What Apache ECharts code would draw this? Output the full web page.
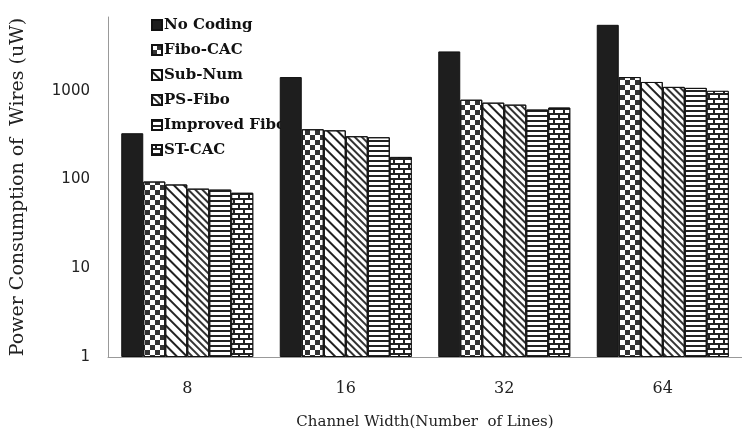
<!DOCTYPE html>
<html>
<head>
<meta charset="utf-8">
<script src="https://cdn.jsdelivr.net/npm/echarts@6/dist/echarts.min.js"></script>
<style>
  html, body { margin: 0; padding: 0; background: #fff; }
  #chart { width: 742px; height: 435px; }
</style>
</head>
<body>
<div id="chart"></div>
<script>
// channel widths (x categories)
const categories = ['8', '16', '32', '64'];
// power consumption of wires, uW
const noCoding = [333, 1431, 2783, 5550];
const fiboCac = [95, 369, 794, 1431];
const subNum = [88, 359, 736, 1259];
const psFibo = [79, 308, 699, 1108];
const improvedFibo = [77, 300, 615, 1080];
const stCac = [71, 180, 648, 1000];
const yTicks = [1, 10, 100, 1000];

const chart = echarts.init(document.getElementById('chart'));

const ink = '#1e1e1e';
const serif = '"DejaVu Serif", "Liberation Serif", serif';

function bar(name, data, color, decal) {
  return {
    name: name,
    type: 'bar',
    z: 2,
    barWidth: 22,
    barGap: '0%',
    data: data,
    itemStyle: {
      color: color,
      borderColor: '#111',
      borderWidth: 1,
      decal: decal
    }
  };
}

chart.setOption({
  animation: false,
  backgroundColor: '#fff',
  grid: {
    left: 108,
    top: 17,
    width: 648,
    height: 345
  },
  legend: {
    z: 1,
    orient: 'vertical',
    left: 146,
    top: 12,
    icon: 'rect',
    itemWidth: 10,
    itemHeight: 10,
    itemGap: 9,
    textStyle: {
      fontFamily: serif,
      fontWeight: 'bold',
      fontSize: 15,
      lineHeight: 16,
      color: '#111',
      padding: [0, 0, 0, -3]
    },
    data: ['No Coding', 'Fibo-CAC', 'Sub-Num', 'PS-Fibo', 'Improved Fibo', 'ST-CAC']
  },
  xAxis: {
    type: 'category',
    data: categories,
    name: 'Channel Width(Number  of Lines)',
    nameLocation: 'middle',
    nameGap: 58,
    nameTextStyle: {
      fontFamily: serif,
      fontSize: 15,
      color: '#222'
    },
    axisLine: { lineStyle: { color: '#999', width: 1 } },
    axisTick: { show: false },
    axisLabel: {
      margin: 24,
      fontFamily: serif,
      fontSize: 16,
      color: '#222'
    }
  },
  yAxis: {
    type: 'log',
    min: yTicks[0],
    max: 6800,
    name: 'Power Consumption of  Wires (uW)',
    nameLocation: 'middle',
    nameGap: 80,
    nameTextStyle: {
      fontFamily: serif,
      fontSize: 19,
      color: '#222'
    },
    splitLine: { show: false },
    axisLine: { show: true, lineStyle: { color: '#999', width: 1 } },
    axisTick: { show: false },
    axisLabel: {
      margin: 18,
      showMaxLabel: false,
      fontFamily: '"DejaVu Sans", sans-serif',
      fontSize: 15,
      color: '#222',
      formatter: function (v) {
        return yTicks.indexOf(Math.round(v)) >= 0 ? String(Math.round(v)) : '';
      }
    }
  },
  series: [
    bar('No Coding', noCoding, ink, null),
    bar('Fibo-CAC', fiboCac, '#fff', {
      symbol: 'rect', symbolSize: 1, color: '#333',
      dashArrayX: [[5, 5], [0, 5, 5, 0]], dashArrayY: [5, 0]
    }),
    bar('Sub-Num', subNum, '#fff', {
      symbol: 'rect', symbolSize: 1, color: '#222',
      dashArrayX: [1, 0], dashArrayY: [2, 5], rotation: Math.PI / 4
    }),
    bar('PS-Fibo', psFibo, '#fff', {
      symbol: 'rect', symbolSize: 1, color: '#333',
      dashArrayX: [1, 0], dashArrayY: [1.5, 2.5], rotation: Math.PI / 4
    }),
    bar('Improved Fibo', improvedFibo, '#fff', {
      symbol: 'rect', symbolSize: 1, color: '#222',
      dashArrayX: [1, 0], dashArrayY: [2, 3], rotation: 0
    }),
    bar('ST-CAC', stCac, '#222', {
      symbol: 'rect', symbolSize: 1, color: '#fff',
      dashArrayX: [[8, 2], [3, 2, 5, 0]], dashArrayY: [3, 2], rotation: 0
    })
  ]
});
</script>
</body>
</html>
